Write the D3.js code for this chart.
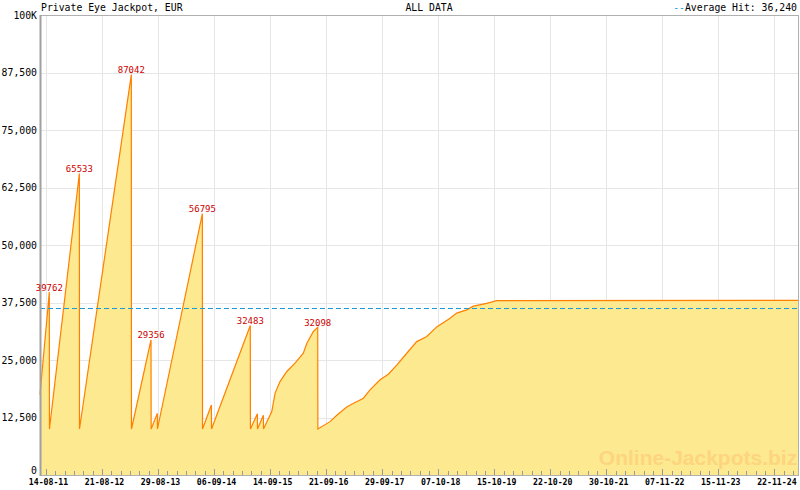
<!DOCTYPE html>
<html>
<head>
<meta charset="utf-8">
<script src="https://cdn.jsdelivr.net/npm/d3@7/dist/d3.min.js"></script>
<style>
html,body{margin:0;padding:0;background:#fff;}
svg{display:block;}
</style>
</head>
<body>
<svg id="chart" width="800" height="490"></svg>
<script>
// ---- data ----
const title = "Private Eye Jackpot, EUR";
const subtitle = "ALL DATA";
const averageHit = 36240;
const dates = [
  "2011-07-05","2011-09-05","2011-09-06","2012-03-23","2012-03-24","2013-03-04","2013-03-05",
  "2013-07-13","2013-07-14","2013-08-24","2013-08-25","2014-06-20","2014-06-21","2014-08-19",
  "2014-08-20","2015-05-05","2015-05-06","2015-06-21","2015-06-22","2015-07-31","2015-08-01",
  "2015-09-25","2015-10-17","2015-11-19","2016-01-03","2016-02-27","2016-04-22","2016-05-15",
  "2016-06-28","2016-07-27","2016-07-28","2016-10-17","2016-12-01","2017-02-05","2017-03-10",
  "2017-05-27","2017-07-10","2017-09-15","2017-11-09","2018-01-04","2018-02-17","2018-05-17",
  "2018-07-23","2018-09-27","2018-12-25","2019-02-07","2019-04-15","2019-05-29","2019-08-26",
  "2019-11-01","2025-05-05"
];
const values = [
  17500,39762,10000,65533,10000,87042,10000,
  29356,10000,13400,10000,56795,10000,15200,
  10000,32483,10000,13300,10000,13000,10000,
  13800,17800,20300,22500,24300,26500,28600,
  31200,32098,10000,11600,13000,14800,15400,
  16700,18500,20700,21900,23900,25600,29000,
  30100,32200,34100,35200,35900,36700,37300,
  37900,37950
];
const peakDates = ["2011-09-05","2012-03-23","2013-03-04","2013-07-13","2014-06-20","2015-05-05","2016-07-27"];
const peakValues = [39762,65533,87042,29356,56795,32483,32098];
const xTickDates = ["2011-08-14","2012-08-21","2013-08-29","2014-09-06","2015-09-14","2016-09-21","2017-09-29",
  "2018-10-07","2019-10-15","2020-10-22","2021-10-30","2022-11-07","2023-11-15","2024-11-22"];
const yTickValues = [0,12500,25000,37500,50000,62500,75000,87500,100000];
const yTickLabels = ["0","12,500","25,000","37,500","50,000","62,500","75,000","87,500","100K"];

// ---- layout ----
const parse = d3.utcParse("%Y-%m-%d");
const data = dates.map((d,i)=>({date:parse(d), value:values[i]}));
const L=40, R=799, T=15, B=475;
const svg = d3.select("#chart");
const mono = "'DejaVu Sans Mono', monospace";

const x = d3.scaleUtc().domain([parse(dates[0]), parse(dates[dates.length-1])]).range([L,R]);
const y = d3.scaleLinear().domain([0,100000]).range([B,T]);

const xMajor = xTickDates.map(parse);
const xMinor = [];
const step = (xMajor[1]-xMajor[0])/6;
for (let t = +xMajor[0] - 6*step; t <= +x.domain()[1]; t += step) {
  if (t >= +x.domain()[0]) xMinor.push(new Date(t));
}

// grid
const g = svg.append("g");
g.selectAll("line.hg").data(yTickValues.slice(1,-1)).join("line")
  .attr("x1",L).attr("x2",R).attr("y1",d=>Math.round(y(d))+0.5).attr("y2",d=>Math.round(y(d))+0.5)
  .attr("stroke","#e6e6e6").attr("stroke-width",1);
g.selectAll("line.vg").data(xMajor).join("line")
  .attr("x1",d=>Math.round(x(d))+0.5).attr("x2",d=>Math.round(x(d))+0.5).attr("y1",T).attr("y2",B)
  .attr("stroke","#e6e6e6").attr("stroke-width",1);

// area + line
const area = d3.area().x(d=>x(d.date)).y0(B).y1(d=>y(d.value));
const line = d3.line().x(d=>x(d.date)).y(d=>y(d.value));
svg.append("path").datum(data).attr("d",area).attr("fill","#fde98f");

// watermark
svg.append("text").attr("x",698).attr("y",465).attr("text-anchor","middle")
  .attr("font-family","'Liberation Sans', Arial, sans-serif").attr("font-weight","bold")
  .attr("font-size",21).attr("fill","#fdd580").text("Online-Jackpots.biz");

svg.append("path").datum(data).attr("d",line).attr("fill","none")
  .attr("stroke","#ff8000").attr("stroke-width",1.2);

// average line
svg.append("line").attr("x1",L).attr("x2",R)
  .attr("y1",Math.round(y(averageHit))+0.5).attr("y2",Math.round(y(averageHit))+0.5)
  .attr("stroke","#1a9ad6").attr("stroke-width",1).attr("stroke-dasharray","5,3");

// frame
svg.append("rect").attr("x",L+0.5).attr("y",T+0.5).attr("width",R-L-1).attr("height",B-T)
  .attr("fill","none").attr("stroke","#b0b0b0").attr("stroke-width",1);
svg.append("line").attr("x1",L+0.5).attr("x2",L+0.5).attr("y1",T).attr("y2",B+1)
  .attr("stroke","#a0a0a0").attr("stroke-width",2);

// x ticks (inside, upward)
svg.selectAll("line.xmin").data(xMinor).join("line")
  .attr("x1",d=>Math.round(x(d))+0.5).attr("x2",d=>Math.round(x(d))+0.5)
  .attr("y1",B).attr("y2",B-4).attr("stroke","#999");
svg.selectAll("line.xmaj").data(xMajor).join("line")
  .attr("x1",d=>Math.round(x(d))+0.5).attr("x2",d=>Math.round(x(d))+0.5)
  .attr("y1",B).attr("y2",B-6).attr("stroke","#999");

// x labels
const fmt = d3.utcFormat("%d-%m-%y");
svg.selectAll("text.xl").data(xMajor).join("text")
  .attr("x",d=>x(d)+2.5).attr("y",484.5).attr("text-anchor","middle")
  .attr("font-family",mono).attr("font-size",8.2).attr("font-weight","bold").attr("fill","#000")
  .text(d=>fmt(d));

// y labels
svg.selectAll("text.yl").data(yTickValues).join("text")
  .attr("x",37).attr("y",(d)=>Math.min(y(d)+3.5, B-1)).attr("text-anchor","end")
  .attr("font-family",mono).attr("font-size",9.8).attr("fill","#000")
  .text((d,i)=>yTickLabels[i]);

// peak labels
svg.selectAll("text.pk").data(peakValues).join("text")
  .attr("x",(d,i)=>x(parse(peakDates[i]))).attr("y",d=>y(d)-1.5).attr("text-anchor","middle")
  .attr("font-family",mono).attr("font-size",9).attr("fill","#cc0000")
  .text(d=>d);

// header
svg.append("text").attr("x",41).attr("y",11).attr("font-family",mono).attr("font-size",9.8)
  .attr("fill","#000").text(title);
svg.append("text").attr("x",429).attr("y",11).attr("text-anchor","middle").attr("font-family",mono)
  .attr("font-size",9.8).attr("fill","#000").text(subtitle);
const avgText = svg.append("text").attr("x",797).attr("y",11).attr("text-anchor","end")
  .attr("font-family",mono).attr("font-size",9.8);
avgText.append("tspan").attr("fill","#1a9ad6").text("--");
avgText.append("tspan").attr("fill","#000").text("Average Hit: " + d3.format(",")(averageHit));
</script>
</body>
</html>
